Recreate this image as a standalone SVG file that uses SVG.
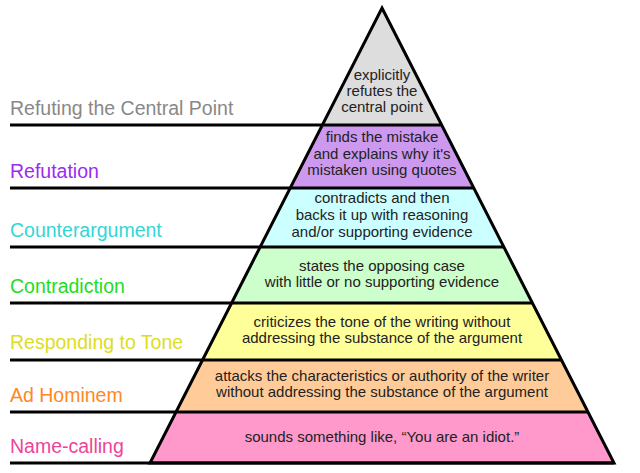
<svg xmlns="http://www.w3.org/2000/svg" width="640" height="473" viewBox="0 0 640 473">
<style>
.lbl{font-family:"Liberation Sans",Arial,sans-serif;font-size:19.5px}
.txt{font-family:"Liberation Sans",Arial,sans-serif;font-size:15px;fill:#222;text-anchor:middle}
.ln{stroke:#000;stroke-width:3;fill:none}
</style>
<rect width="640" height="473" fill="#fff"/>
<g id="level7">
<polygon points="382,8 441.7,125 322.3,125" fill="#dddddd"/>
<text class="lbl" x="10" y="115" fill="#888888">Refuting the Central Point</text>
<text class="txt" x="382" y="80">explicitly</text>
<text class="txt" x="382" y="96">refutes the</text>
<text class="txt" x="382" y="112">central point</text>
</g>
<g id="level6">
<polygon points="322.3,125 441.7,125 473.8,188 290.2,188" fill="#cc99ee"/>
<text class="lbl" x="10" y="178" fill="#9a2cf0">Refutation</text>
<text class="txt" x="382" y="142">finds the mistake</text>
<text class="txt" x="382" y="159">and explains why it's</text>
<text class="txt" x="382" y="175">mistaken using quotes</text>
</g>
<g id="level5">
<polygon points="290.2,188 473.8,188 503.9,247 260.1,247" fill="#ccffff"/>
<text class="lbl" x="10" y="237" fill="#33d6d6">Counterargument</text>
<text class="txt" x="382" y="203">contradicts and then</text>
<text class="txt" x="382" y="220">backs it up with reasoning</text>
<text class="txt" x="382" y="237">and/or supporting evidence</text>
</g>
<g id="level4">
<polygon points="260.1,247 503.9,247 532.4,303 231.6,303" fill="#ccffcc"/>
<text class="lbl" x="10" y="293" fill="#22dd22">Contradiction</text>
<text class="txt" x="382" y="271">states the opposing case</text>
<text class="txt" x="382" y="287">with little or no supporting evidence</text>
</g>
<g id="level3">
<polygon points="231.6,303 532.4,303 561.5,360 202.5,360" fill="#ffff99"/>
<text class="lbl" x="10" y="349" fill="#dddd22">Responding to Tone</text>
<text class="txt" x="382" y="327">criticizes the tone of the writing without</text>
<text class="txt" x="382" y="343">addressing the substance of the argument</text>
</g>
<g id="level2">
<polygon points="202.5,360 561.5,360 588,412 176,412" fill="#ffcc99"/>
<text class="lbl" x="10" y="402" fill="#ff8822">Ad Hominem</text>
<text class="txt" x="382" y="381">attacks the characteristics or authority of the writer</text>
<text class="txt" x="382" y="397">without addressing the substance of the argument</text>
</g>
<g id="level1">
<polygon points="176,412 588,412 614,463 150,463" fill="#ff99cc"/>
<text class="lbl" x="10" y="453" fill="#ee4499">Name-calling</text>
<text class="txt" x="382" y="442">sounds something like, “You are an idiot.”</text>
</g>
<g id="connectors">
<line class="ln" x1="10" y1="125" x2="441.7" y2="125"/>
<line class="ln" x1="10" y1="188" x2="473.8" y2="188"/>
<line class="ln" x1="10" y1="247" x2="503.9" y2="247"/>
<line class="ln" x1="10" y1="303" x2="532.4" y2="303"/>
<line class="ln" x1="10" y1="360" x2="561.5" y2="360"/>
<line class="ln" x1="10" y1="412" x2="588" y2="412"/>
<polygon class="ln" points="382,8 614,463 150,463" stroke-linejoin="miter"/>
<line class="ln" x1="10" y1="463" x2="614" y2="463"/>
</g>
</svg>
